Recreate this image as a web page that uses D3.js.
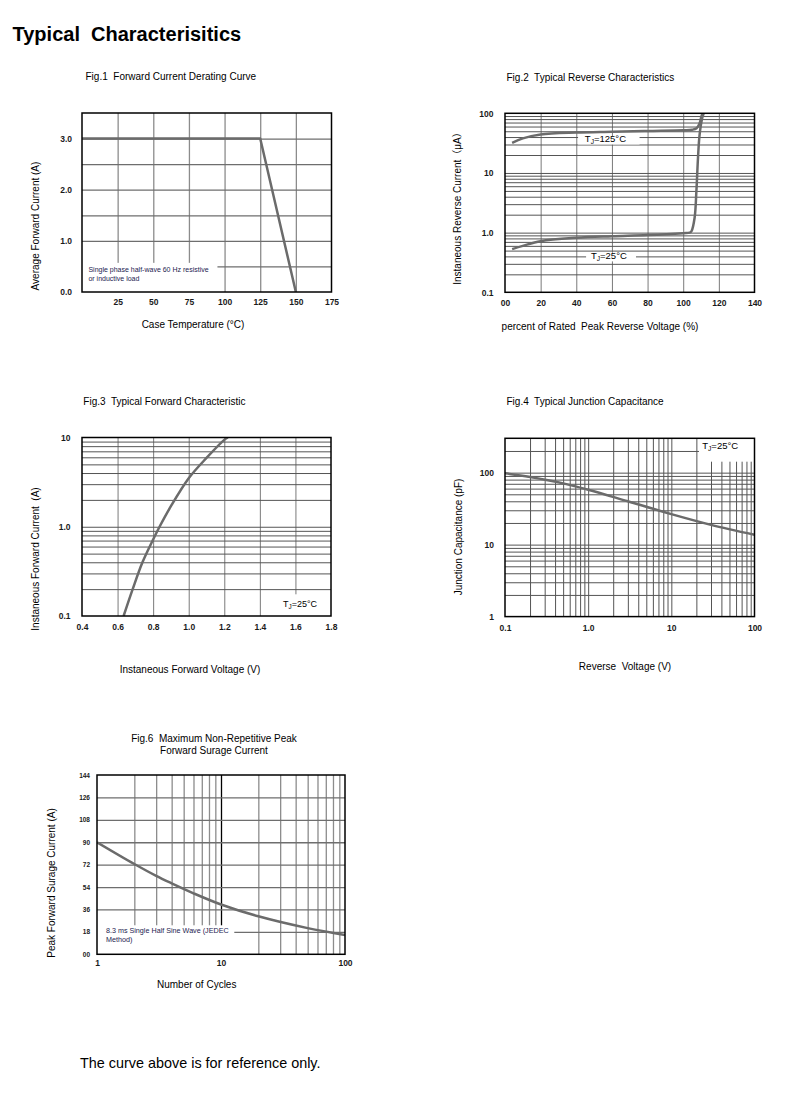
<!DOCTYPE html>
<html>
<head>
<meta charset="utf-8">
<script src="https://cdn.jsdelivr.net/npm/d3@7"></script>
<style>
  body { margin: 0; background: #fff; }
  svg { font-family: "Liberation Sans", Arial, "Noto Sans CJK SC", sans-serif; }
</style>
</head>
<body>
<svg id="page" width="790" height="1098"></svg>
<script>
// Fig.1 forward current derating
const fig1Temp = [0, 125, 150];
const fig1Current = [3.0, 3.0, 0.0];
const fig1XTicks = [25, 50, 75, 100, 125, 150, 175];
const fig1YTicks = [0, 1, 2, 3];
const fig1YLabels = ['0.0', '1.0', '2.0', '3.0'];

// Fig.2 reverse characteristics
const fig2Pct125 = [4, 10, 20, 40, 60, 80, 100, 105, 107.5, 109.2, 110.5, 111.4];
const fig2Cur125 = [32, 38, 44, 47.5, 49, 50.5, 52, 53, 56, 68, 94, 100];
const fig2Pct25 = [4, 10, 20, 40, 60, 80, 100, 103.6, 104.6, 106.4, 107.4, 108.3, 109.2, 110.7, 111.5];
const fig2Cur25 = [0.53, 0.6, 0.72, 0.82, 0.87, 0.91, 0.98, 1.0, 1.05, 1.78, 5.0, 18, 44, 84, 100];
const fig2XTicks = [0, 20, 40, 60, 80, 100, 120, 140];
const fig2XLabels = ['00', '20', '40', '60', '80', '100', '120', '140'];
const fig2YTicks = [0.1, 1, 10, 100];
const fig2YLabels = ['0.1', '1.0', '10', '100'];

// Fig.3 forward characteristic
const fig3Volt = [0.634, 0.685, 0.74, 0.8, 0.836, 0.9, 1.0, 1.1, 1.2, 1.22];
const fig3Cur = [0.1, 0.2, 0.4, 0.72, 1.0, 1.7, 3.5, 5.9, 9.4, 10];
const fig3XTicks = [0.4, 0.6, 0.8, 1.0, 1.2, 1.4, 1.6, 1.8];
const fig3YTicks = [0.1, 1, 10];
const fig3YLabels = ['0.1', '1.0', '10'];

// Fig.4 junction capacitance
const fig4Volt = [0.1, 0.2, 0.5, 1, 3, 10, 30, 100];
const fig4Cap = [98, 87, 71, 58, 40, 26.5, 18.8, 13.7];
const fig4XTicks = [0.1, 1, 10, 100];
const fig4XLabels = ['0.1', '1.0', '10', '100'];
const fig4YTicks = [1, 10, 100];
const fig4YLabels = ['1', '10', '100'];

// Fig.6 surge current
const fig6Cycles = [1, 2, 3, 4, 6, 10, 20, 50, 100];
const fig6Amps = [90, 72.5, 63, 57, 49, 40, 30.5, 21, 15.5];
const fig6XTicks = [1, 10, 100];
const fig6YTicks = [0, 18, 36, 54, 72, 90, 108, 126, 144];
const fig6YLabels = ['00', '18', '36', '54', '72', '90', '108', '126', '144'];

const svg = d3.select('#page');
const curveColor = '#6b6b6b';
const noteColor = '#1c2250';

svg.append('text').attr('x', 12.5).attr('y', 40.5)
  .attr('font-size', 20).attr('font-weight', 'bold').attr('fill', '#000')
  .attr('xml:space', 'preserve')
  .text('Typical  Characterisitics');

svg.append('text').attr('x', 80).attr('y', 1068)
  .attr('font-size', 14.4).attr('fill', '#000')
  .text('The curve above is for reference only.');

function tj(sel, rest) {
  sel.append('tspan').text('T');
  sel.append('tspan').attr('font-size', '0.7em').attr('dy', 2).text('J');
  sel.append('tspan').attr('dy', -2).text(rest);
}

function drawPanel(c) {
  const g = svg.append('g').attr('transform', `translate(${c.left},${c.top})`);
  const x = c.x.range([0, c.width]);
  const y = c.y.range([c.height, 0]);
  const id = 'clip' + c.name;

  g.append('clipPath').attr('id', id).append('rect')
    .attr('width', c.width).attr('height', c.height);

  // grid lines
  const gx = g.append('g').attr('transform', `translate(0,${c.height})`)
    .call(d3.axisBottom(x).tickValues(c.xGrid).tickSize(-c.height).tickFormat(''));
  const gy = g.append('g')
    .call(d3.axisLeft(y).tickValues(c.yGrid).tickSize(-c.width).tickFormat(''));
  [[gx, c.xGridColor], [gy, c.yGridColor]].forEach(([s, col]) => {
    s.select('.domain').remove();
    s.selectAll('.tick line')
      .attr('stroke', (d) => (c.darkLine && c.darkLine(d) ? '#000' : col))
      .attr('stroke-width', c.gridWidth || 1);
  });

  // white note boxes covering the grid
  (c.boxes || []).forEach((b) => {
    g.append('rect')
      .attr('x', x(b.x0)).attr('y', y(b.y1))
      .attr('width', x(b.x1) - x(b.x0)).attr('height', y(b.y0) - y(b.y1))
      .attr('fill', '#fff');
  });

  // curves
  c.series.forEach((s) => {
    const pts = s.xs.map((v, i) => [v, s.ys[i]]);
    g.append('path')
      .attr('clip-path', `url(#${id})`)
      .attr('d', d3.line().x((d) => x(d[0])).y((d) => y(d[1]))
        .curve(s.curve || d3.curveCatmullRom.alpha(0.5))(pts))
      .attr('fill', 'none')
      .attr('stroke', curveColor)
      .attr('stroke-width', 2.5)
      .attr('stroke-linejoin', 'round');
  });

  g.append('rect').attr('width', c.width).attr('height', c.height)
    .attr('fill', 'none').attr('stroke', '#000').attr('stroke-width', 1.5);

  // tick labels
  const ax = g.append('g').attr('transform', `translate(0,${c.height})`)
    .call(d3.axisBottom(x).tickValues(c.xTicks).tickSize(0).tickPadding(c.xPad)
      .tickFormat((d, i) => (c.xLabels ? c.xLabels[i] : String(d))));
  const ay = g.append('g')
    .call(d3.axisLeft(y).tickValues(c.yTicks).tickSize(0).tickPadding(c.yPad)
      .tickFormat((d, i) => c.yLabels[i]));
  ax.attr('font-size', c.xFont || 8.5);
  ay.attr('font-size', c.yFont || 8.5);
  [ax, ay].forEach((s) => {
    s.attr('font-family', null).attr('font-weight', 'bold');
    s.select('.domain').remove();
    s.selectAll('text').attr('fill', '#1a1a1a');
  });

  // titles
  c.title.forEach((t, i) => {
    svg.append('text').attr('x', c.titleX).attr('y', c.titleY + i * 12)
      .attr('text-anchor', c.titleAnchor || 'start')
      .attr('font-size', 10).attr('xml:space', 'preserve').text(t);
  });
  svg.append('text').attr('x', c.xTitleX).attr('y', c.xTitleY)
    .attr('text-anchor', 'middle').attr('font-size', 10).attr('xml:space', 'preserve')
    .text(c.xTitle);
  svg.append('text')
    .attr('transform', `translate(${c.yTitleX},${c.yTitleY}) rotate(-90)`)
    .attr('text-anchor', 'middle').attr('font-size', 10).attr('xml:space', 'preserve')
    .text(c.yTitle);

  (c.notes || []).forEach((n) => {
    const t = g.append('text').attr('x', x(n.x)).attr('y', y(n.y))
      .attr('font-size', n.size).attr('fill', n.color || '#000');
    if (n.tj) tj(t, n.text); else t.text(n.text);
  });
  return { x, y };
}

// Fig.1
drawPanel({
  name: 'f1', left: 82, top: 113, width: 249.5, height: 179,
  x: d3.scaleLinear().domain([0, 175]), y: d3.scaleLinear().domain([0, 3.5]),
  xGrid: fig1XTicks.slice(0, -1), yGrid: [0.5, 1, 1.5, 2, 2.5, 3],
  xGridColor: '#8c8c8c', yGridColor: '#6e6e6e', gridWidth: 1.3,
  xTicks: fig1XTicks, yTicks: fig1YTicks, yLabels: fig1YLabels, xPad: 6.5, yPad: 10,
  boxes: [{ x0: 0, x1: 95, y0: 0, y1: 0.57 }],
  series: [{ xs: fig1Temp, ys: fig1Current, curve: d3.curveLinear }],
  title: ['Fig.1  Forward Current Derating Curve'], titleX: 85.5, titleY: 80,
  xTitle: 'Case Temperature (°C)', xTitleX: 193, xTitleY: 328,
  yTitle: 'Average Forward Current (A)', yTitleX: 38.5, yTitleY: 226,
  notes: [
    { x: 4.5, y: 0.39, size: 7, color: noteColor, text: 'Single phase half-wave 60 Hz resistive' },
    { x: 4.5, y: 0.21, size: 7, color: noteColor, text: 'or inductive load' }
  ]
});

// Fig.2
const f2y = d3.scaleLog().domain([0.1, 100]);
drawPanel({
  name: 'f2', left: 505, top: 113.3, width: 249.5, height: 179,
  x: d3.scaleLinear().domain([0, 140]), y: f2y,
  xGrid: [20, 40, 60, 80, 100, 120], yGrid: f2y.ticks().filter((d) => d > 0.1 && d < 100),
  xGridColor: '#7a7a7a', yGridColor: '#555',
  xTicks: fig2XTicks, xLabels: fig2XLabels, yTicks: fig2YTicks, yLabels: fig2YLabels,
  xPad: 7.5, yPad: 11.5,
  boxes: [{ x0: 41, x1: 75.5, y0: 30, y1: 41 }, { x0: 45.5, x1: 73.5, y0: 0.33, y1: 0.46 }],
  series: [{ xs: fig2Pct125, ys: fig2Cur125 }, { xs: fig2Pct25, ys: fig2Cur25 }],
  title: ['Fig.2  Typical Reverse Characteristics'], titleX: 506.5, titleY: 81,
  xTitle: 'percent of Rated  Peak Reverse Voltage (%)', xTitleX: 600, xTitleY: 330,
  yTitle: 'Instaneous Reverse Current（μA）', yTitleX: 460.5, yTitleY: 206,
  notes: [
    { x: 44.8, y: 32.5, size: 9.5, tj: true, text: '=125°C' },
    { x: 48.2, y: 0.36, size: 9.5, tj: true, text: '=25°C' }
  ]
});

// Fig.3
const f3y = d3.scaleLog().domain([0.1, 10]);
drawPanel({
  name: 'f3', left: 82, top: 437.5, width: 249, height: 178.5,
  x: d3.scaleLinear().domain([0.4, 1.8]), y: f3y,
  xGrid: [0.6, 0.8, 1.0, 1.2, 1.4, 1.6], yGrid: f3y.ticks().filter((d) => d > 0.1 && d < 10),
  xGridColor: '#7a7a7a', yGridColor: '#555',
  xTicks: fig3XTicks, xLabels: fig3XTicks.map((d) => d.toFixed(1)),
  yTicks: fig3YTicks, yLabels: fig3YLabels, xPad: 8, yPad: 11.5,
  boxes: [{ x0: 1.5, x1: 1.8, y0: 0.1, y1: 0.175 }],
  series: [{ xs: fig3Volt, ys: fig3Cur }],
  title: ['Fig.3  Typical Forward Characteristic'], titleX: 83.3, titleY: 405,
  xTitle: 'Instaneous Forward Voltage (V)', xTitleX: 190, xTitleY: 673,
  yTitle: 'Instaneous Forward Current  (A)', yTitleX: 38.5, yTitleY: 559,
  notes: [{ x: 1.53, y: 0.126, size: 9, tj: true, text: '=25°C' }]
});

// Fig.4
const f4x = d3.scaleLog().domain([0.1, 100]);
const f4y = d3.scaleLog().domain([1, 300]);
drawPanel({
  name: 'f4', left: 505, top: 438.3, width: 249.5, height: 178.3,
  x: f4x, y: f4y,
  xGrid: f4x.ticks().filter((d) => d > 0.1 && d < 100), yGrid: f4y.ticks().filter((d) => d > 1 && d < 300),
  xGridColor: '#555', yGridColor: '#555',
  xTicks: fig4XTicks, xLabels: fig4XLabels, yTicks: fig4YTicks, yLabels: fig4YLabels,
  xPad: 8.5, yPad: 11,
  boxes: [{ x0: 21.5, x1: 100, y0: 142, y1: 300 }],
  series: [{ xs: fig4Volt, ys: fig4Cap }],
  title: ['Fig.4  Typical Junction Capacitance'], titleX: 506.5, titleY: 405,
  xTitle: 'Reverse  Voltage (V)', xTitleX: 625, xTitleY: 670,
  yTitle: 'Junction Capacitance (pF)', yTitleX: 461.5, yTitleY: 537,
  notes: [{ x: 23.5, y: 215, size: 9.5, tj: true, text: '=25°C' }]
});

// Fig.6
const f6x = d3.scaleLog().domain([1, 100]);
drawPanel({
  name: 'f6', left: 97, top: 775, width: 248, height: 179.3,
  x: f6x, y: d3.scaleLinear().domain([0, 144]),
  xGrid: f6x.ticks().filter((d) => d > 1 && d < 100), yGrid: fig6YTicks.slice(1, -1),
  xGridColor: '#8c8c8c', yGridColor: '#6e6e6e', gridWidth: 1.3,
  darkLine: (d) => d === 10,
  xTicks: fig6XTicks, yTicks: fig6YTicks, yLabels: fig6YLabels,
  xPad: 6, yPad: 7, yFont: 6.5,
  boxes: [{ x0: 1, x1: 12.8, y0: 0, y1: 23.3 }],
  series: [{ xs: fig6Cycles, ys: fig6Amps }],
  title: ['Fig.6  Maximum Non-Repetitive Peak', 'Forward Surage Current'],
  titleX: 214, titleY: 742, titleAnchor: 'middle',
  xTitle: 'Number of Cycles', xTitleX: 196.7, xTitleY: 988,
  yTitle: 'Peak Forward Surage Current (A)', yTitleX: 55, yTitleY: 883,
  notes: [
    { x: 1.18, y: 17.5, size: 7.2, color: noteColor, text: '8.3 ms Single Half Sine Wave (JEDEC' },
    { x: 1.18, y: 10, size: 7.2, color: noteColor, text: 'Method)' }
  ]
});
</script>
</body>
</html>
